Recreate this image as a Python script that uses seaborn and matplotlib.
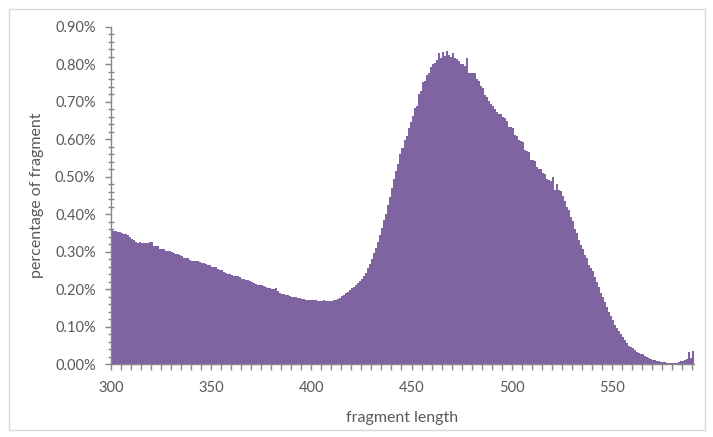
import numpy as np
import pandas as pd
import matplotlib
matplotlib.use("Agg")
import matplotlib.pyplot as plt
import seaborn as sns
from matplotlib.ticker import MultipleLocator, FuncFormatter
from matplotlib.patches import Rectangle

# fragment lengths 300..590
fragment_length = list(range(300, 591))

pct_300 = [0.358, 0.356, 0.354, 0.353, 0.352, 0.349, 0.347, 0.346, 0.344, 0.338]
pct_310 = [0.334, 0.330, 0.325, 0.324, 0.325, 0.323, 0.322, 0.324, 0.322, 0.326]
pct_320 = [0.326, 0.315, 0.314, 0.315, 0.307, 0.307, 0.306, 0.303, 0.303, 0.302]
pct_330 = [0.300, 0.296, 0.294, 0.293, 0.292, 0.288, 0.284, 0.283, 0.282, 0.279]
pct_340 = [0.276, 0.275, 0.275, 0.274, 0.272, 0.270, 0.270, 0.266, 0.265, 0.265]
pct_350 = [0.259, 0.258, 0.258, 0.255, 0.251, 0.250, 0.245, 0.243, 0.241, 0.240]
pct_360 = [0.238, 0.236, 0.235, 0.235, 0.233, 0.228, 0.226, 0.225, 0.223, 0.222]
pct_370 = [0.218, 0.216, 0.214, 0.212, 0.212, 0.210, 0.209, 0.205, 0.203, 0.202]
pct_380 = [0.200, 0.200, 0.202, 0.195, 0.190, 0.188, 0.186, 0.185, 0.183, 0.182]
pct_390 = [0.180, 0.179, 0.178, 0.177, 0.176, 0.174, 0.173, 0.172, 0.172, 0.171]
pct_400 = [0.172, 0.170, 0.171, 0.169, 0.169, 0.168, 0.170, 0.168, 0.167, 0.167]
pct_410 = [0.168, 0.170, 0.172, 0.174, 0.176, 0.181, 0.184, 0.189, 0.193, 0.197]
pct_420 = [0.202, 0.206, 0.212, 0.217, 0.222, 0.228, 0.234, 0.243, 0.256, 0.268]
pct_430 = [0.280, 0.296, 0.309, 0.327, 0.345, 0.362, 0.385, 0.400, 0.425, 0.445]
pct_440 = [0.470, 0.495, 0.515, 0.535, 0.560, 0.578, 0.598, 0.610, 0.630, 0.645]
pct_450 = [0.662, 0.683, 0.688, 0.722, 0.728, 0.752, 0.757, 0.772, 0.778, 0.792]
pct_460 = [0.802, 0.803, 0.811, 0.831, 0.818, 0.833, 0.822, 0.836, 0.826, 0.820]
pct_470 = [0.831, 0.817, 0.815, 0.808, 0.800, 0.800, 0.797, 0.817, 0.777, 0.777]
pct_480 = [0.777, 0.776, 0.760, 0.755, 0.742, 0.738, 0.718, 0.713, 0.702, 0.695]
pct_490 = [0.688, 0.680, 0.673, 0.667, 0.667, 0.660, 0.658, 0.648, 0.634, 0.632]
pct_500 = [0.630, 0.612, 0.608, 0.598, 0.596, 0.594, 0.572, 0.568, 0.567, 0.545]
pct_510 = [0.545, 0.543, 0.525, 0.522, 0.520, 0.510, 0.508, 0.493, 0.492, 0.490]
pct_520 = [0.499, 0.465, 0.481, 0.465, 0.461, 0.448, 0.434, 0.420, 0.410, 0.392]
pct_530 = [0.383, 0.360, 0.350, 0.330, 0.318, 0.308, 0.292, 0.283, 0.265, 0.256]
pct_540 = [0.248, 0.232, 0.220, 0.205, 0.190, 0.180, 0.165, 0.153, 0.138, 0.128]
pct_550 = [0.118, 0.105, 0.097, 0.088, 0.080, 0.073, 0.063, 0.055, 0.048, 0.045]
pct_560 = [0.042, 0.038, 0.033, 0.030, 0.028, 0.026, 0.022, 0.019, 0.016, 0.014]
pct_570 = [0.012, 0.011, 0.009, 0.008, 0.006, 0.005, 0.005, 0.004, 0.004, 0.004]
pct_580 = [0.004, 0.004, 0.004, 0.006, 0.007, 0.007, 0.010, 0.014, 0.031, 0.016]
pct_590 = [0.035]

percentage = (pct_300 + pct_310 + pct_320 + pct_330 + pct_340 + pct_350 + pct_360
              + pct_370 + pct_380 + pct_390 + pct_400 + pct_410 + pct_420 + pct_430
              + pct_440 + pct_450 + pct_460 + pct_470 + pct_480 + pct_490 + pct_500
              + pct_510 + pct_520 + pct_530 + pct_540 + pct_550 + pct_560 + pct_570
              + pct_580 + pct_590)

x_tick_labels = [300, 350, 400, 450, 500, 550]
y_tick_values = [0.0, 0.1, 0.2, 0.3, 0.4, 0.5, 0.6, 0.7, 0.8, 0.9]

df = pd.DataFrame({"length": fragment_length, "pct": percentage})

sns.set_theme(style="white")
plt.rcParams["font.family"] = ["Lato", "DejaVu Sans"]

W, H = 713, 437
fig = plt.figure(figsize=(W / 100, H / 100), dpi=100)
left, right, top, bottom = 111, 694, 27, 364
ax = fig.add_axes([left / W, 1 - bottom / H, (right - left) / W, (bottom - top) / H])

bar_color = "#8064A2"
sns.histplot(data=df, x="length", weights="pct", binwidth=1, binrange=(300, 591),
             color=bar_color, alpha=1, linewidth=0, ax=ax)

ax.set_xlim(300, 591)
ax.set_ylim(0, 0.9)

axis_gray = "#868686"
text_gray = "#595959"
for s in ["top", "right"]:
    ax.spines[s].set_visible(False)
for s in ["left", "bottom"]:
    ax.spines[s].set_color(axis_gray)
    ax.spines[s].set_linewidth(1.0)

ax.set_yticks(y_tick_values)
ax.yaxis.set_major_formatter(FuncFormatter(lambda v, p: f"{v:.2f}%"))
ax.yaxis.set_minor_locator(MultipleLocator(0.02))

ax.set_xticks(x_tick_labels)
ax.set_xticklabels([str(v) for v in x_tick_labels])
ax.xaxis.set_minor_locator(MultipleLocator(5))

ax.tick_params(axis="y", which="major", direction="out", length=4, width=1,
               color=axis_gray, labelcolor=text_gray, labelsize=10.5, pad=7, left=True)
ax.tick_params(axis="y", which="minor", direction="inout", length=4, width=1,
               color=axis_gray, left=True)
ax.tick_params(axis="x", which="both", direction="out", length=4, width=1,
               color=axis_gray, labelcolor=text_gray, labelsize=10.5, pad=8, bottom=True)

ax.set_xlabel("fragment length", color=text_gray, fontsize=11.5, labelpad=12)
ax.set_ylabel("percentage of fragment", color=text_gray, fontsize=11.5, labelpad=8)
ax.grid(False)

fig.patches.append(Rectangle((9 / W, 1 - 430 / H), (705 - 9) / W, (430 - 9) / H,
                             transform=fig.transFigure, fill=False,
                             edgecolor="#D9D9D9", linewidth=1))

fig.savefig("out.png", dpi=100)
